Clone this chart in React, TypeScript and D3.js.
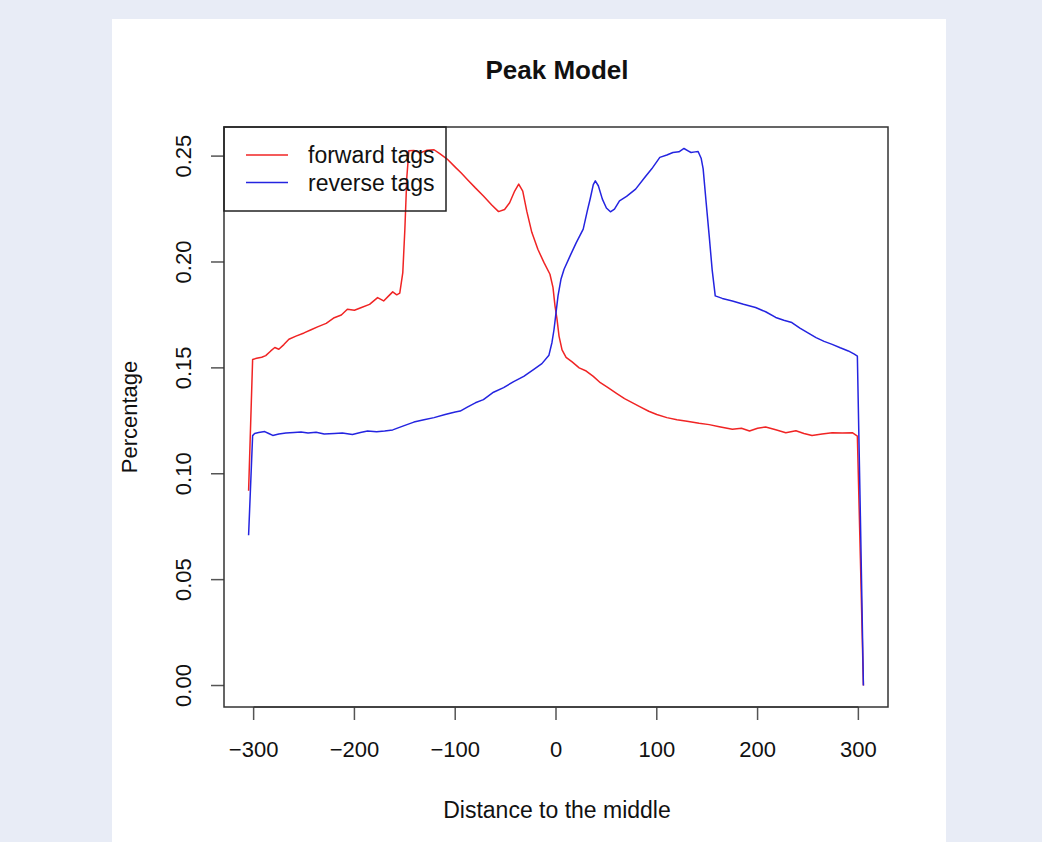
import React from 'react';
import * as d3 from 'd3';

// forward tags (red)
const forwardPos = [
  -305, -301, -297, -292, -288, -283, -279, -275, -270, -265, -258, -250, -243, -236, -228,
  -220, -213, -207, -200, -193, -185, -177, -171, -166, -162, -158, -155, -152, -150, -148,
  -146, -141, -135, -128, -121, -115, -108, -100, -94, -88, -80, -72, -64, -57, -51, -46,
  -41, -37, -33, -29, -24, -18, -12, -6, -3, -1, 1, 3, 6, 10, 16, 23, 30, 37, 44, 52, 60,
  68, 76, 84, 92, 100, 110, 120, 130, 142, 152, 162, 175, 184, 192, 200, 208, 218, 228, 238,
  246, 254, 264, 274, 284, 294, 299, 302, 305,
];
const forwardPct = [
  0.092, 0.154, 0.1545, 0.155, 0.1558, 0.158, 0.1596, 0.1588, 0.161, 0.1635, 0.165, 0.1665,
  0.168, 0.1695, 0.171, 0.1737, 0.175, 0.1777, 0.1772, 0.1785, 0.18, 0.1832, 0.1816, 0.184,
  0.1859, 0.1845, 0.1853, 0.195, 0.215, 0.24, 0.2525, 0.2527, 0.2515, 0.2528, 0.253, 0.251,
  0.2486, 0.2448, 0.242, 0.239, 0.235, 0.2312, 0.227, 0.2238, 0.2248, 0.228, 0.2335, 0.2368,
  0.2335, 0.224, 0.214, 0.206, 0.1998, 0.1942, 0.188, 0.1793, 0.173, 0.165, 0.1585, 0.155,
  0.1528, 0.15, 0.1485, 0.146, 0.143, 0.1405, 0.138, 0.1355, 0.1335, 0.1315, 0.1295, 0.128,
  0.1265, 0.1255, 0.1248, 0.1238, 0.1232, 0.1222, 0.121, 0.1215, 0.1202, 0.1215, 0.1221,
  0.1208, 0.1194, 0.1203, 0.119, 0.1181, 0.1188, 0.1194, 0.1192, 0.1194, 0.1178, 0.06, 0.0,
];

// reverse tags (blue)
const reversePos = [
  -305, -301, -299, -295, -289, -285, -281, -275, -268, -260, -253, -246, -238, -230, -220,
  -212, -202, -194, -187, -178, -170, -162, -152, -141, -131, -121, -110, -100, -95, -88,
  -80, -72, -62, -52, -42, -32, -22, -14, -7, -4, -2, 0, 2, 5, 8, 14, 20, 27, 31, 34, 37,
  39, 42, 46, 50, 54, 58, 63, 70, 79, 88, 95, 103, 110, 116, 122, 127, 131, 134, 138, 141,
  144, 146, 149, 152, 155, 158, 165, 175, 186, 198, 208, 218, 226, 234, 242, 250, 258, 266,
  274, 282, 290, 296, 299, 302, 305,
];
const reversePct = [
  0.071, 0.118, 0.119, 0.1195, 0.1199, 0.119, 0.1181, 0.1188, 0.1192, 0.1195, 0.1197, 0.1192,
  0.1196, 0.1188, 0.119, 0.1192, 0.1185, 0.1195, 0.1202, 0.1198, 0.1202, 0.1207, 0.1225,
  0.1244, 0.1255, 0.1265, 0.128, 0.1292, 0.1296, 0.1315, 0.1335, 0.135, 0.1385, 0.1407,
  0.1435, 0.146, 0.1493, 0.152, 0.156, 0.162, 0.168, 0.176, 0.184, 0.192, 0.1966, 0.2029,
  0.209, 0.2155, 0.224, 0.23, 0.2365, 0.2383, 0.236, 0.2297, 0.2255, 0.2237, 0.225, 0.2289,
  0.231, 0.2344, 0.2399, 0.244, 0.2494, 0.2505, 0.2517, 0.252, 0.2536, 0.2525, 0.2517, 0.252,
  0.2522, 0.249, 0.244, 0.228, 0.2123, 0.196, 0.184, 0.1828, 0.1816, 0.18, 0.1785, 0.1765,
  0.1738, 0.1725, 0.1714, 0.1688, 0.1665, 0.1643, 0.1625, 0.1611, 0.1595, 0.158, 0.1565,
  0.1556, 0.08, 0.0,
];

const xTicks = [-300, -200, -100, 0, 100, 200, 300];
const yTicks = [0, 0.05, 0.1, 0.15, 0.2, 0.25];
const seriesNames = ['forward tags', 'reverse tags'];
const seriesColors = ['#f02424', '#2424e0'];

const font = '"Liberation Sans", Arial, Helvetica, sans-serif';

// R-style 4% padding around the data range
function pad(ext: [number, number]): [number, number] {
  const d = (ext[1] - ext[0]) * 0.04;
  return [ext[0] - d, ext[1] + d];
}

export default function App() {
  const width = 1042;
  const height = 842;
  const box = { left: 224, right: 888, top: 127, bottom: 707 };

  const x = d3
    .scaleLinear()
    .domain(pad(d3.extent(forwardPos.concat(reversePos)) as [number, number]))
    .range([box.left, box.right]);
  const y = d3
    .scaleLinear()
    .domain(pad(d3.extent(forwardPct.concat(reversePct)) as [number, number]))
    .range([box.bottom, box.top]);

  const line = d3
    .line<[number, number]>()
    .x((d) => x(d[0]))
    .y((d) => y(d[1]));

  const series = [
    forwardPos.map((p, i) => [p, forwardPct[i]] as [number, number]),
    reversePos.map((p, i) => [p, reversePct[i]] as [number, number]),
  ];

  const fmtY = d3.format('.2f');
  const fmtX = d3.format('d');

  return (
    <svg
      width={width}
      height={height}
      style={{ position: 'absolute', left: 0, top: 0 }}
      fontFamily={font}
    >
      <rect x={0} y={0} width={width} height={height} fill="#e8ecf6" />
      <rect x={112} y={19} width={834} height={height - 19} fill="#ffffff" />

      <text x={557} y={79} textAnchor="middle" fontSize={26} fontWeight="bold" fill="#111">
        Peak Model
      </text>

      <g>
        {series.map((s, i) => (
          <path key={i} d={line(s) || ''} fill="none" stroke={seriesColors[i]} strokeWidth={1.5} strokeLinejoin="round" />
        ))}
      </g>

      {/* x axis */}
      <g>
        <line x1={x(xTicks[0])} x2={x(xTicks[xTicks.length - 1])} y1={box.bottom} y2={box.bottom} stroke="#444" strokeWidth={1.5} />
        {xTicks.map((t) => (
          <g key={t}>
            <line x1={x(t)} x2={x(t)} y1={box.bottom} y2={box.bottom + 13} stroke="#555" strokeWidth={1.5} />
            <text x={x(t)} y={757} textAnchor="middle" fontSize={22} fill="#111">
              {fmtX(t)}
            </text>
          </g>
        ))}
      </g>

      {/* y axis */}
      <g>
        {yTicks.map((t) => (
          <g key={t}>
            <line x1={box.left - 13} x2={box.left} y1={y(t)} y2={y(t)} stroke="#555" strokeWidth={1.5} />
            <text
              transform={`translate(191,${y(t)}) rotate(-90)`}
              textAnchor="middle"
              fontSize={22}
              fill="#111"
            >
              {fmtY(t)}
            </text>
          </g>
        ))}
      </g>

      <rect
        x={box.left}
        y={box.top}
        width={box.right - box.left}
        height={box.bottom - box.top}
        fill="none"
        stroke="#333"
        strokeWidth={1.5}
      />

      {/* legend */}
      <g>
        <rect x={box.left} y={box.top} width={222} height={84} fill="none" stroke="#222" strokeWidth={1.5} />
        {seriesNames.map((n, i) => (
          <g key={n} transform={`translate(0,${155 + i * 27.5})`}>
            <line x1={246} x2={288} y1={0} y2={0} stroke={seriesColors[i]} strokeWidth={1.5} />
            <text x={308} y={8} fontSize={23} fill="#111">
              {n}
            </text>
          </g>
        ))}
      </g>

      <text x={557} y={818} textAnchor="middle" fontSize={23} fill="#111">
        Distance to the middle
      </text>
      <text transform="translate(137,417) rotate(-90)" textAnchor="middle" fontSize={22} fill="#111">
        Percentage
      </text>
    </svg>
  );
}
